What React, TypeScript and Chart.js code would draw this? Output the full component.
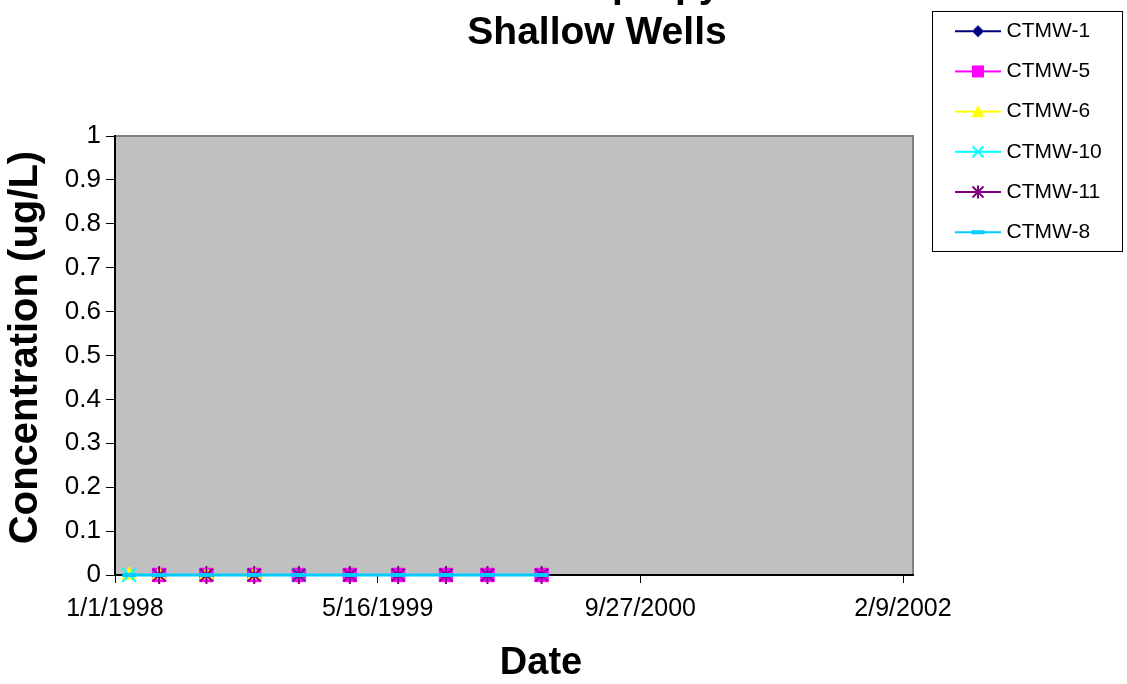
import React, { useEffect, useRef } from 'react';
import { Chart, registerables } from 'chart.js';

Chart.register(...registerables);

// ---------- data ----------
const titleLines = ['N-Nitrosodi-n-propylamine', 'Shallow Wells'];
const yAxisTitle = 'Concentration (ug/L)';
const xAxisTitle = 'Date';

const seriesNames = ['CTMW-1', 'CTMW-5', 'CTMW-6', 'CTMW-10', 'CTMW-11', 'CTMW-8'];

const sampleDates = [
  '1/28/1998', '3/26/1998', '6/24/1998', '9/23/1998', '12/17/1998',
  '3/24/1999', '6/24/1999', '9/23/1999', '12/11/1999', '3/23/2000',
];

const ctmw1: (number | null)[] = [null, null, null, null, null, null, null, null, null, null];
const ctmw5: (number | null)[] = [null, 0, 0, 0, 0, 0, 0, 0, 0, 0];
const ctmw6: (number | null)[] = [0, 0, 0, 0, null, null, null, null, null, null];
const ctmw10: (number | null)[] = [0, null, null, null, 0, null, null, null, null, null];
const ctmw11: (number | null)[] = [null, 0, 0, 0, 0, 0, 0, 0, 0, 0];
const ctmw8: (number | null)[] = [0, 0, 0, 0, 0, 0, 0, 0, 0, 0];

const seriesValues = [ctmw1, ctmw5, ctmw6, ctmw10, ctmw11, ctmw8];

const xAxisMinDate = '1/1/1998';
const xAxisMaxDate = '2/28/2002';
const xTickLabels = ['1/1/1998', '5/16/1999', '9/27/2000', '2/9/2002'];
const yTickValues = [0, 0.1, 0.2, 0.3, 0.4, 0.5, 0.6, 0.7, 0.8, 0.9, 1];

// ---------- styles ----------
const FONT = "'Liberation Sans', Arial, sans-serif";
const seriesColors = ['#000080', '#FF00FF', '#FFFF00', '#00FFFF', '#800080', '#00CCFF'];
const seriesPointStyles = ['rectRot', 'rect', 'triangle', 'crossRot', 'star', 'line'];
const seriesPointRadius = [7, 9.5, 8, 9.5, 9, 7];
const seriesPointBorder = [1, 1, 1, 2, 2, 4];
const seriesLineWidth = [2, 2, 2, 2, 2, 3];

const dayMs = 86400000;
function parseMDY(s: string): number {
  const [m, d, y] = s.split('/').map(Number);
  return Date.UTC(y, m - 1, d) / dayMs;
}
const baseDay = parseMDY(xAxisMinDate);
const toDays = (s: string) => parseMDY(s) - baseDay;

function makeLegendSample(color: string, style: string): HTMLCanvasElement {
  const c = document.createElement('canvas');
  c.width = 46;
  c.height = 18;
  const g = c.getContext('2d')!;
  const cx = 23;
  const cy = 9;
  g.strokeStyle = color;
  g.fillStyle = color;
  g.lineWidth = 2;
  g.beginPath();
  g.moveTo(0, cy);
  g.lineTo(46, cy);
  g.stroke();
  g.beginPath();
  if (style === 'rectRot') {
    g.moveTo(cx, cy - 6);
    g.lineTo(cx + 6, cy);
    g.lineTo(cx, cy + 6);
    g.lineTo(cx - 6, cy);
    g.closePath();
    g.fill();
  } else if (style === 'rect') {
    g.fillRect(cx - 6, cy - 6, 12, 12);
  } else if (style === 'triangle') {
    g.moveTo(cx, cy - 6.5);
    g.lineTo(cx + 6.5, cy + 5.5);
    g.lineTo(cx - 6.5, cy + 5.5);
    g.closePath();
    g.fill();
  } else if (style === 'crossRot') {
    g.moveTo(cx - 5.5, cy - 5.5);
    g.lineTo(cx + 5.5, cy + 5.5);
    g.moveTo(cx + 5.5, cy - 5.5);
    g.lineTo(cx - 5.5, cy + 5.5);
    g.stroke();
  } else if (style === 'star') {
    g.moveTo(cx - 5.5, cy - 5.5);
    g.lineTo(cx + 5.5, cy + 5.5);
    g.moveTo(cx + 5.5, cy - 5.5);
    g.lineTo(cx - 5.5, cy + 5.5);
    g.moveTo(cx, cy - 6.5);
    g.lineTo(cx, cy + 6.5);
    g.stroke();
  } else if (style === 'line') {
    g.fillRect(cx - 6.5, cy - 2, 13, 4);
  }
  return c;
}

const TITLE_CX = 597;
const X_TITLE_SHIFT = 27;
const Y_TITLE_SHIFT = -8;

const layoutPlugin = {
  id: 'layoutPlugin',
  afterLayout(chart: any) {
    const t = chart.titleBlock;
    if (t) {
      t.left = TITLE_CX - 450;
      t.right = TITLE_CX + 450;
      t.width = 900;
    }
    const lg = chart.legend;
    if (lg) {
      lg.left = 940.8;
      lg.top = 1.5;
      lg.right = 1127;
      lg.bottom = 684;
      lg.width = lg.right - lg.left;
      lg.height = lg.bottom - lg.top;
    }
    const shifts: [string, number, number][] = [['x', X_TITLE_SHIFT, 0], ['y', 0, Y_TITLE_SHIFT]];
    shifts.forEach(([id, dx, dy]) => {
      const s = chart.scales[id];
      if (s && !s.__shifted) {
        const orig = s.drawTitle.bind(s);
        s.drawTitle = () => {
          s.ctx.save();
          s.ctx.translate(dx, dy);
          orig();
          s.ctx.restore();
        };
        s.__shifted = true;
      }
    });
  },
  beforeDraw(chart: any) {
    const { ctx, chartArea: a } = chart;
    ctx.save();
    ctx.fillStyle = '#C0C0C0';
    ctx.fillRect(a.left, a.top, a.right - a.left, a.bottom - a.top);
    ctx.strokeStyle = '#808080';
    ctx.lineWidth = 2;
    ctx.strokeRect(a.left, a.top, a.right - a.left, a.bottom - a.top);
    ctx.restore();
  },
  afterDraw(chart: any) {
    const ctx = chart.ctx;
    ctx.save();
    ctx.strokeStyle = '#000';
    ctx.lineWidth = 1;
    ctx.strokeRect(932.5, 11.5, 190, 240);
    ctx.restore();
  },
};

export default function App() {
  const ref = useRef<HTMLCanvasElement | null>(null);

  useEffect(() => {
    document.body.style.margin = '0';
    const canvas = ref.current!;
    const samples = seriesNames.map((_, i) => makeLegendSample(seriesColors[i], seriesPointStyles[i]));

    const datasets = seriesNames.map((name, i) => ({
      label: name,
      data: sampleDates
        .map((d, j) => ({ x: toDays(d), y: seriesValues[i][j] }))
        .filter((p) => p.y !== null),
      borderColor: seriesColors[i],
      backgroundColor: seriesColors[i],
      pointBackgroundColor: seriesColors[i],
      pointBorderColor: seriesColors[i],
      pointStyle: seriesPointStyles[i],
      pointRadius: seriesPointRadius[i],
      pointBorderWidth: seriesPointBorder[i],
      borderWidth: seriesLineWidth[i],
      spanGaps: true,
      clip: false,
      order: seriesNames.length - 1 - i,
      tension: 0,
    }));

    const xTickDays = xTickLabels.map(toDays);

    const chart = new Chart(canvas, {
      type: 'line',
      data: { datasets: datasets as any },
      plugins: [layoutPlugin],
      options: {
        animation: false,
        responsive: false,
        devicePixelRatio: 1,
        layout: { padding: { top: 0, left: 0, right: 214, bottom: 0 } },
        plugins: {
          tooltip: { enabled: false },
          title: {
            display: true,
            text: titleLines,
            color: '#000',
            font: { family: FONT, size: 39, weight: 'bold', lineHeight: 47 / 39 },
            padding: { top: -37, bottom: 79 },
          },
          legend: {
            display: true,
            position: 'chartArea' as any,
            align: 'start',
            labels: {
              usePointStyle: true,
              pointStyleWidth: 36,
              padding: 19.2,
              color: '#000',
              font: { family: FONT, size: 21 },
              generateLabels: () =>
                seriesNames.map((name, i) => ({
                  text: name,
                  pointStyle: samples[i] as any,
                  fillStyle: seriesColors[i],
                  strokeStyle: seriesColors[i],
                  lineWidth: 0,
                  hidden: false,
                  datasetIndex: i,
                  fontColor: '#000',
                })),
            },
          },
        },
        scales: {
          x: {
            type: 'linear',
            min: 0,
            max: toDays(xAxisMaxDate),
            afterBuildTicks: (scale: any) => {
              scale.ticks = xTickDays.map((v) => ({ value: v }));
            },
            afterFit: (scale: any) => {
              scale.height = 109;
            },
            ticks: {
              color: '#000',
              font: { family: FONT, size: 25 },
              padding: 11,
              maxRotation: 0,
              autoSkip: false,
              callback: (v: any) => {
                const k = xTickDays.indexOf(Number(v));
                return k >= 0 ? xTickLabels[k] : '';
              },
            },
            grid: {
              display: true,
              drawOnChartArea: false,
              drawTicks: true,
              tickLength: 8,
              color: '#000',
              lineWidth: 1,
            },
            border: { display: true, color: '#000', width: 2 },
            title: {
              display: true,
              text: xAxisTitle,
              color: '#000',
              font: { family: FONT, size: 38, weight: 'bold', lineHeight: 1 },
              padding: { top: 0, bottom: 1 },
            },
          },
          y: {
            type: 'linear',
            min: 0,
            max: 1,
            afterBuildTicks: (scale: any) => {
              scale.ticks = yTickValues.map((v) => ({ value: v }));
            },
            afterFit: (scale: any) => {
              scale.width = 115;
            },
            ticks: {
              color: '#000',
              font: { family: FONT, size: 26 },
              padding: 5,
              autoSkip: false,
              callback: (v: any) => String(v),
            },
            grid: {
              display: true,
              drawOnChartArea: false,
              drawTicks: true,
              tickLength: 9,
              color: '#000',
              lineWidth: 1,
            },
            border: { display: true, color: '#000', width: 2 },
            title: {
              display: true,
              text: yAxisTitle,
              color: '#000',
              font: { family: FONT, size: 40, weight: 'bold', lineHeight: 1.2 },
              padding: { top: 2, bottom: 0 },
            },
          },
        },
      } as any,
    });

    return () => chart.destroy();
  }, []);

  return (
    <div style={{ position: 'fixed', left: 0, top: 0, width: 1127, height: 684, background: '#fff' }}>
      <canvas ref={ref} width={1127} height={684} style={{ display: 'block' }} />
    </div>
  );
}
